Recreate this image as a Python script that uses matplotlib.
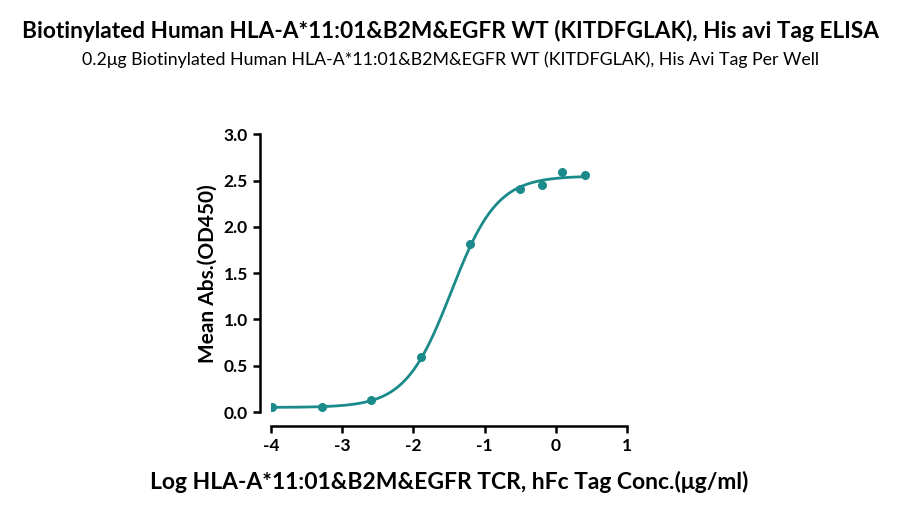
import matplotlib
matplotlib.use("Agg")
import matplotlib.pyplot as plt
import numpy as np

plt.rcParams['font.family'] = ['Lato', 'DejaVu Sans']
plt.rcParams['axes.unicode_minus'] = False

# measured points (log conc, OD450)
log_conc = [-3.98, -3.29, -2.6, -1.89, -1.2, -0.51, -0.2, 0.09, 0.4]
od450 = [0.05, 0.06, 0.13, 0.60, 1.82, 2.41, 2.45, 2.59, 2.56]

# 4PL fit parameters
bottom, top, logec50, hill = 0.05, 2.55, -1.47, 1.35

color = '#1b8a8a'

fig = plt.figure(figsize=(9, 5.05), dpi=100)
ax = fig.add_axes([0.301, 0.184, 0.396, 0.550])

xs = np.linspace(-4, 0.4, 300)
ys = bottom + (top - bottom) / (1 + 10 ** (hill * (logec50 - xs)))
ax.plot(xs, ys, color=color, lw=2)
ax.scatter(log_conc, od450, color=color, s=30, zorder=3)

ax.set_xlim(-4, 1)
ax.set_ylim(0, 3)
ax.set_xticks([-4, -3, -2, -1, 0, 1])
ax.set_yticks(np.arange(0, 3.01, 0.5))
ax.set_yticklabels([f'{v:.1f}' for v in np.arange(0, 3.01, 0.5)])
for s in ['top', 'right']:
    ax.spines[s].set_visible(False)
ax.spines['left'].set_position(('outward', 8))
ax.spines['bottom'].set_position(('outward', 10))
for s in ['left', 'bottom']:
    ax.spines[s].set_linewidth(1.8)
ax.tick_params(width=1.8, length=5, labelsize=12.5)
for lab in ax.get_xticklabels() + ax.get_yticklabels():
    lab.set_fontweight('bold')

ax.set_ylabel('Mean Abs.(OD450)', fontsize=15, fontweight='bold')
ax.set_xlabel('Log HLA-A*11:01&B2M&EGFR TCR, hFc Tag Conc.(μg/ml)', fontsize=16.5, fontweight='bold', labelpad=12)

fig.text(0.5, 0.925, 'Biotinylated Human HLA-A*11:01&B2M&EGFR WT (KITDFGLAK), His avi Tag ELISA',
         ha='center', fontsize=16.3, fontweight='bold')
fig.text(0.5, 0.872, '0.2μg Biotinylated Human HLA-A*11:01&B2M&EGFR WT (KITDFGLAK), His Avi Tag Per Well',
         ha='center', fontsize=12.8)

fig.savefig('out.png', dpi=100)
